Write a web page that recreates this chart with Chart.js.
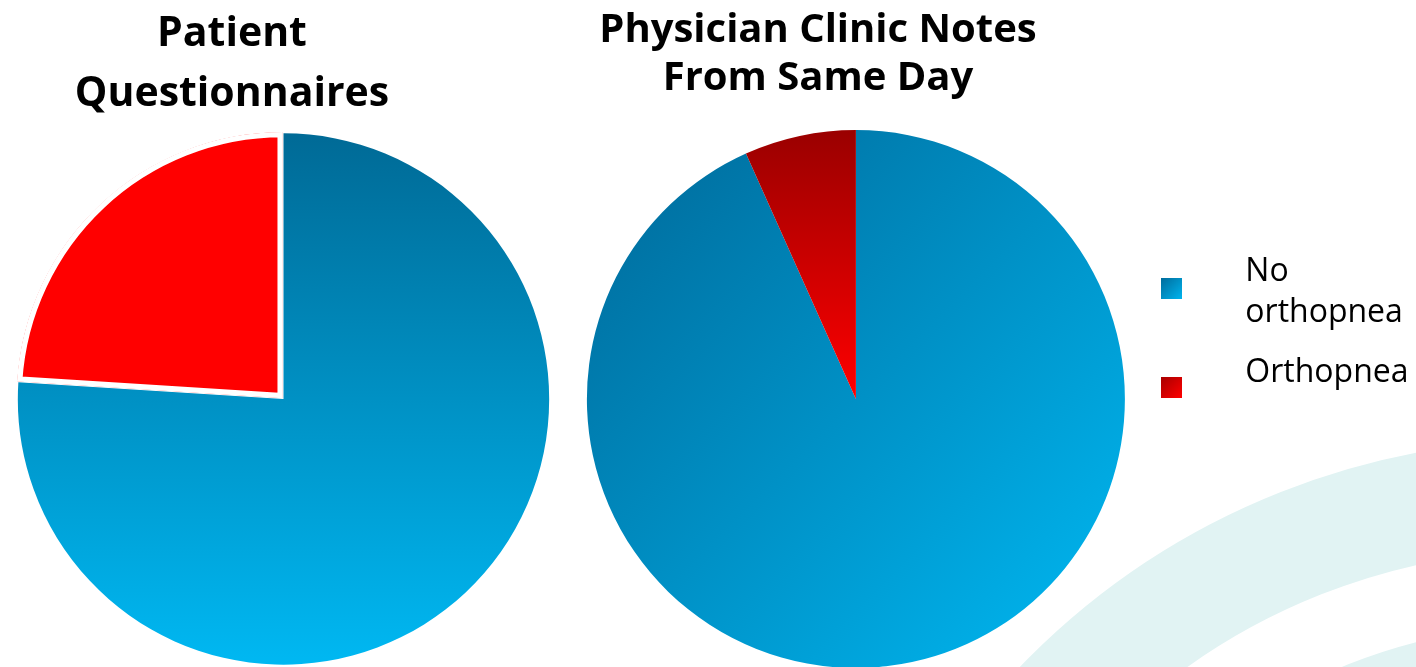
<!DOCTYPE html>
<html>
<head>
<meta charset="utf-8">
<script src="https://cdn.jsdelivr.net/npm/chart.js@4"></script>
<style>
  body { margin: 0; background: #fff; overflow: hidden; }
  .box { position: absolute; top: 0; height: 667px; }
  #left { left: 0; width: 567px; }
  #right { left: 560px; width: 856px; }
</style>
</head>
<body>
<div class="box" id="left"><canvas id="chart_q"></canvas></div>
<div class="box" id="right"><canvas id="chart_n"></canvas></div>
<script>
// values (percent of patients)
var labels = ['No orthopnea', 'Orthopnea'];
var legendLines = [['No', 'orthopnea'], ['Orthopnea']];
var questionnaires = [76, 24];
var clinicNotes = [93.3, 6.7];

var R_LEFT = 266, R_RIGHT = 269;

// the slide titles sit a bit left of the pies, so nudge the title block
var titleShift = {
  id: 'titleShift',
  afterLayout: function (chart, args, opts) {
    var t = chart.titleBlock;
    if (t && opts.dx) { t.left += opts.dx; t.right += opts.dx; }
  }
};

// faint teal swooshes of the slide background
var swoosh = {
  id: 'swoosh',
  beforeDraw: function (chart, args, opts) {
    var ctx = chart.ctx;
    ctx.save();
    ctx.strokeStyle = opts.color;
    opts.rings.forEach(function (r) {
      ctx.lineWidth = r[1];
      ctx.beginPath();
      ctx.arc(opts.x, opts.y, r[0], 0, Math.PI * 2);
      ctx.stroke();
    });
    ctx.restore();
  }
};

function pieGradient(chart, r, from, to, c0, c1) {
  var a = chart.chartArea;
  if (!a) return c1;
  var cx = (a.left + a.right) / 2, cy = (a.top + a.bottom) / 2;
  var g = chart.ctx.createLinearGradient(cx + from[0] * r, cy + from[1] * r, cx + to[0] * r, cy + to[1] * r);
  g.addColorStop(0, c0);
  g.addColorStop(1, c1);
  return g;
}

// little gradient squares for the legend, dy pushes the square down
function swatch(c0, c1, dy) {
  var s = 21, cv = document.createElement('canvas');
  cv.width = s;
  cv.height = s + 2 * dy;
  var ctx = cv.getContext('2d');
  var g = ctx.createLinearGradient(0, 2 * dy, s, 2 * dy + s);
  g.addColorStop(0, c0);
  g.addColorStop(1, c1);
  ctx.fillStyle = g;
  ctx.fillRect(0, 2 * dy, s, s);
  return cv;
}
var swatches = [swatch('#006c9c', '#00b4ee', 17), swatch('#a80000', '#ff0000', 15)];

Chart.defaults.font.family = 'Open Sans';
Chart.defaults.color = '#000';

new Chart(document.getElementById('chart_q'), {
  type: 'pie',
  data: {
    labels: labels,
    datasets: [{
      data: questionnaires,
      backgroundColor: function (c) {
        if (c.dataIndex === 1) return '#ff0000';
        return pieGradient(c.chart, R_LEFT, [0, -1], [0, 1], '#006a96', '#00b8f2');
      },
      // the pulled-out slice is a little smaller than the rest, a white inner border trims it
      borderWidth: [0, 5],
      borderColor: '#fff',
      borderAlign: 'inner',
      offset: [0, 6],
      clip: false
    }]
  },
  options: {
    responsive: true,
    maintainAspectRatio: false,
    animation: false,
    radius: R_LEFT,
    plugins: {
      legend: { display: false },
      tooltip: { enabled: false },
      title: {
        display: true,
        text: ['Patient', 'Questionnaires'],
        color: '#000',
        font: { size: 41, weight: 'bold', lineHeight: '60px' },
        padding: { top: 4.5, bottom: 6.5 }
      },
      titleShift: { dx: -51.5 }
    }
  },
  plugins: [titleShift]
});

new Chart(document.getElementById('chart_n'), {
  type: 'pie',
  data: {
    labels: labels,
    datasets: [{
      data: clinicNotes,
      backgroundColor: function (c) {
        if (c.dataIndex === 1) return pieGradient(c.chart, R_RIGHT, [0, -1], [0, 0], '#9a0000', '#ff0000');
        return pieGradient(c.chart, R_RIGHT, [-1, -1], [1, 1], '#006898', '#00b9f3');
      },
      borderWidth: 0,
      clip: false
    }]
  },
  options: {
    responsive: true,
    maintainAspectRatio: false,
    animation: false,
    radius: R_RIGHT,
    layout: { padding: { left: 57.5, right: -2.5, top: 0, bottom: 14 } },
    plugins: {
      tooltip: { enabled: false },
      title: {
        display: true,
        text: ['Physician Clinic Notes', 'From Same Day'],
        color: '#000',
        font: { size: 40, weight: 'bold', lineHeight: '48px' },
        padding: { top: 6.5, bottom: 42.5 }
      },
      legend: {
        position: 'right',
        labels: {
          usePointStyle: true,
          pointStyleWidth: 116,
          padding: 19,
          color: '#000',
          font: { size: 32, lineHeight: '41px' },
          generateLabels: function () {
            return legendLines.map(function (text, i) {
              return {
                text: text, pointStyle: swatches[i], fontColor: '#000',
                fillStyle: 'rgba(0,0,0,0)', strokeStyle: 'rgba(0,0,0,0)', lineWidth: 0,
                hidden: false, index: i, datasetIndex: 0
              };
            });
          }
        }
      },
      titleShift: { dx: -200 },
      swoosh: { x: 994, y: 1182, color: '#e1f3f3', rings: [[687, 110], [503, 108]] }
    }
  },
  plugins: [titleShift, swoosh]
});
</script>
</body>
</html>
